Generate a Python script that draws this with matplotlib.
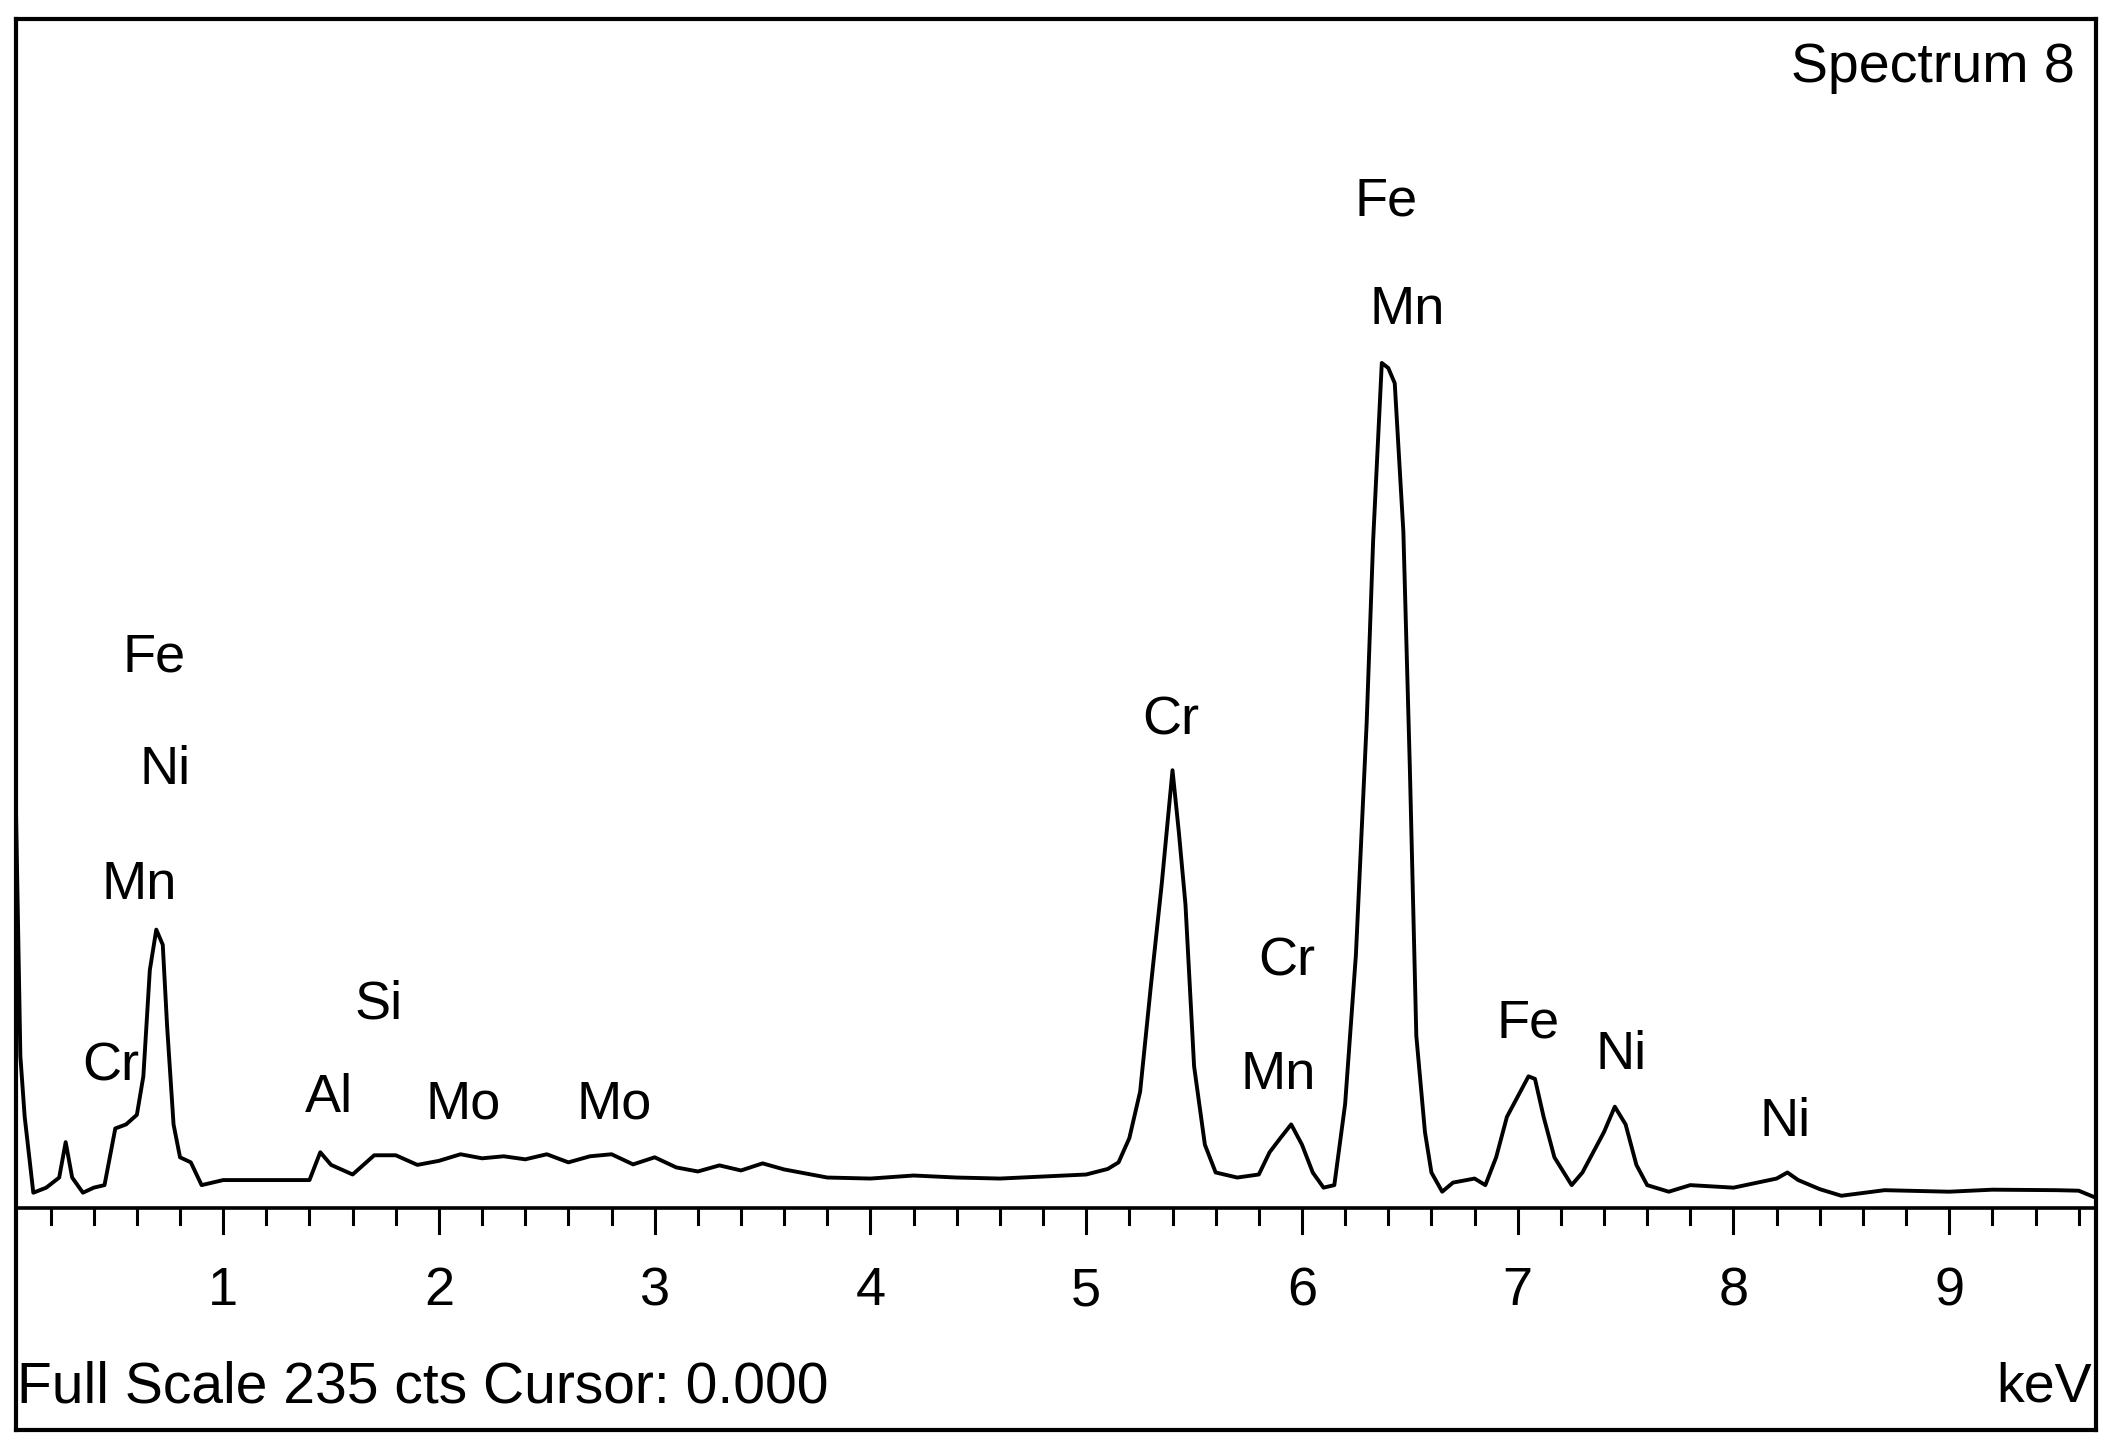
import matplotlib
matplotlib.use("Agg")
import matplotlib.pyplot as plt

energy = [0.04,0.06,0.08,0.12,0.18,0.24,0.27,0.30,0.35,0.40,0.45,0.50,0.55,0.60,0.63,0.66,0.69,0.72,0.74,0.77,0.80,0.85,0.90,1.0,1.2,1.4,1.45,1.5,1.6,1.7,1.8,1.9,2.0,2.1,2.2,2.3,2.4,2.5,2.6,2.7,2.8,2.9,3.0,3.1,3.2,3.3,3.4,3.5,3.6,3.8,4.0,4.2,4.4,4.6,4.8,5.0,5.1,5.15,5.2,5.25,5.3,5.35,5.4,5.43,5.46,5.5,5.55,5.6,5.7,5.8,5.85,5.9,5.95,6.0,6.05,6.1,6.15,6.2,6.25,6.3,6.33,6.37,6.4,6.43,6.47,6.5,6.53,6.57,6.6,6.65,6.7,6.8,6.85,6.9,6.95,7.0,7.05,7.08,7.12,7.17,7.25,7.3,7.4,7.45,7.5,7.55,7.6,7.7,7.8,8.0,8.2,8.25,8.3,8.4,8.5,8.7,9.0,9.2,9.5,9.6,9.68]
counts = [78,30,18,3,4,6,13,6,3,4,4.5,15.7,16.5,18.4,26,47,55,52,36,16.5,10,9,4.5,5.5,5.5,5.5,11,8.5,6.6,10.4,10.4,8.5,9.3,10.6,9.8,10.2,9.6,10.6,9.0,10.2,10.6,8.6,10,8,7.2,8.4,7.4,8.8,7.6,6.0,5.8,6.4,6.0,5.8,6.2,6.6,7.7,9,13.8,23,44,64,86.5,74,60,28,12.5,7,6,6.6,11,13.8,16.5,12.5,7,4,4.5,20.5,50,96,132,167,166,163,133.6,87,34,15,7,3.2,5,5.8,4.5,10,18,22,26,25.5,18,10,4.5,7,15,20,16.5,8.5,4.5,3.2,4.5,4,5.8,7,5.5,3.7,2.4,3.5,3.2,3.6,3.5,3.4,2]

labels = ["Fe","Mn","Cr","Cr","Mn","Fe","Ni","Ni","Fe","Ni","Mn","Cr","Si","Al","Mo","Mo"]
label_x = [6.39,6.49,5.39,5.93,5.89,7.05,7.48,8.24,0.68,0.73,0.61,0.48,1.72,1.49,2.11,2.81]
label_y = [199,177.5,96.3,48.7,26.3,36.5,30.3,17,108.8,86.5,63.9,27.9,40.2,21.8,20.5,20.5]
ticks = [1,2,3,4,5,6,7,8,9]

plt.rcParams['font.family'] = ['Liberation Sans', 'DejaVu Sans']
fig = plt.figure(figsize=(21.12,14.54), dpi=100)
ax = fig.add_axes([0.0076,0.0165,0.9848,0.9705])
ax.set_xlim(0.04,9.68)
ax.set_ylim(-43.9,235)
for s in ax.spines.values():
    s.set_linewidth(3)
ax.set_xticks([]); ax.set_yticks([])
ax.plot(energy, counts, color='black', lw=2.8)
ax.axhline(0, color='black', lw=2.6)
minor = [i/5 for i in range(1,49)]
for m in minor:
    L = 5.0 if abs(m-round(m))<1e-6 else 3.2
    ax.plot([m,m],[0,-L],color='black',lw=2.2)
for t in ticks:
    ax.text(t,-16.5,str(t),ha='center',va='center',fontsize=39)
for l,x,y in zip(labels,label_x,label_y):
    ax.text(x,y,l,ha='center',va='center',fontsize=39)
ax.text(0.99,0.965,"Spectrum 8",transform=ax.transAxes,ha='right',va='center',fontsize=40)
ax.text(0.045,-35.5,"Full Scale 235 cts Cursor: 0.000",ha='left',va='center',fontsize=41)
ax.text(9.66,-35.5,"keV",ha='right',va='center',fontsize=40)
fig.savefig("out.png")
